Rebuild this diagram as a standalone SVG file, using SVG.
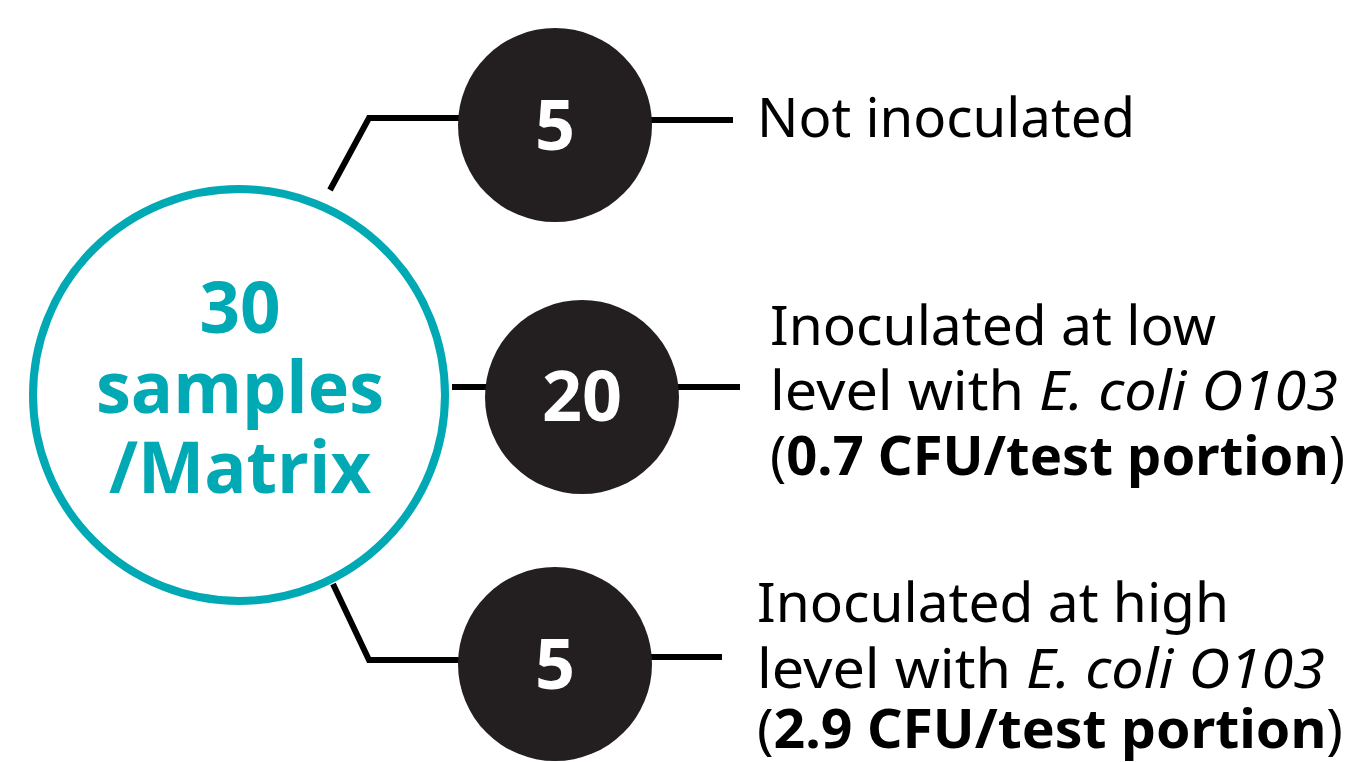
<svg xmlns="http://www.w3.org/2000/svg" width="1357" height="762" viewBox="0 0 1357 762">
<style>
.conn{fill:none;stroke:#000;stroke-width:6;stroke-linejoin:miter}
.num{fill:#231F20}
.numt{font-family:"Open Sans","Noto Sans",sans-serif;font-weight:700;font-size:70px;fill:#fff;text-anchor:middle}
.main{font-family:"Open Sans","Noto Sans",sans-serif;font-weight:700;font-size:71px;fill:#00A9B3;text-anchor:middle}
.lbl{font-family:"Noto Sans","Open Sans",sans-serif;font-size:54px;fill:#000}
.i{font-style:italic}
.b{font-weight:700}
</style>
<rect width="1357" height="762" fill="#fff"/>
<g id="connectors">
<polyline class="conn" points="330,190 369,118 460,118"/>
<line class="conn" x1="650" y1="120" x2="733" y2="120"/>
<line class="conn" x1="452" y1="387" x2="488" y2="387"/>
<line class="conn" x1="677" y1="387" x2="740" y2="387"/>
<polyline class="conn" points="333,584 369,660 460,660"/>
<line class="conn" x1="650" y1="657" x2="722" y2="657"/>
</g>
<g id="node-total">
<circle cx="239" cy="395" r="206" fill="#fff" stroke="#00A9B3" stroke-width="8"/>
<text class="main" x="240" y="333">30</text>
<text class="main" x="240" y="413" textLength="288" lengthAdjust="spacingAndGlyphs">samples</text>
<text class="main" x="240" y="493" textLength="262" lengthAdjust="spacingAndGlyphs">/Matrix</text>
</g>
<g id="node-5a">
<circle class="num" cx="555" cy="125" r="97"/>
<text class="numt" x="555" y="150">5</text>
</g>
<g id="node-20">
<circle class="num" cx="582" cy="397" r="97"/>
<text class="numt" x="582" y="421">20</text>
</g>
<g id="node-5b">
<circle class="num" cx="555" cy="664" r="97"/>
<text class="numt" x="555" y="689">5</text>
</g>
<g id="label-5a">
<text class="lbl" x="757" y="137" textLength="378" lengthAdjust="spacingAndGlyphs">Not inoculated</text>
</g>
<g id="label-20">
<text class="lbl" x="770" y="345" textLength="446" lengthAdjust="spacingAndGlyphs">Inoculated at low</text>
<text class="lbl" x="770" y="410" textLength="568" lengthAdjust="spacingAndGlyphs">level with <tspan class="i">E. coli O103</tspan></text>
<text class="lbl" x="770" y="475" textLength="575" lengthAdjust="spacingAndGlyphs">(<tspan class="b">0.7 CFU/test portion</tspan>)</text>
</g>
<g id="label-5b">
<text class="lbl" x="757" y="622" textLength="472" lengthAdjust="spacingAndGlyphs">Inoculated at high</text>
<text class="lbl" x="757" y="688" textLength="568" lengthAdjust="spacingAndGlyphs">level with <tspan class="i">E. coli O103</tspan></text>
<text class="lbl" x="757" y="748" textLength="586" lengthAdjust="spacingAndGlyphs">(<tspan class="b">2.9 CFU/test portion</tspan>)</text>
</g>
</svg>
